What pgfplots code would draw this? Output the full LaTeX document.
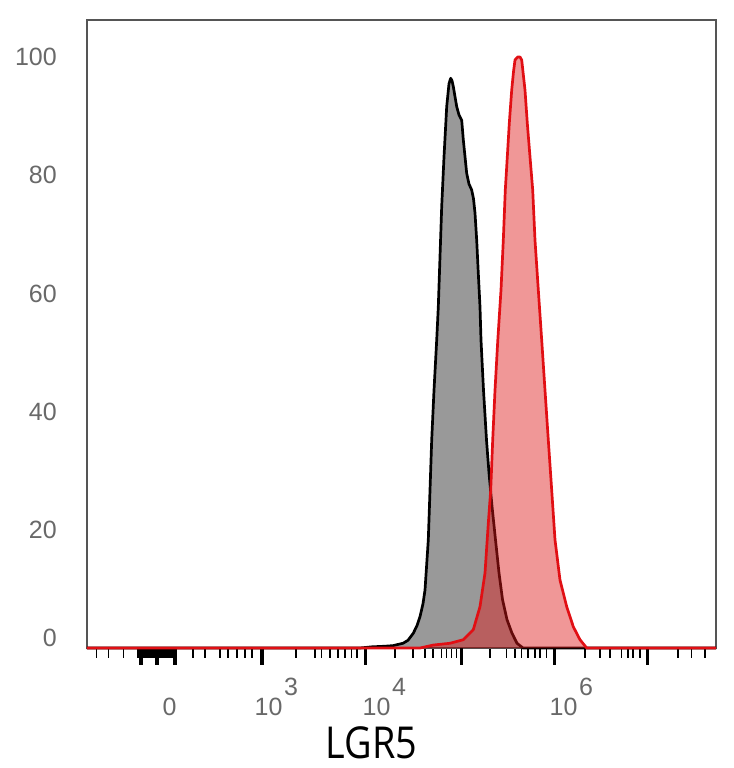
\documentclass[border=0pt]{standalone}
\usepackage{fontspec}
\setmainfont{Liberation Sans}
\newfontfamily\labelfont{Open Sans}
\usepackage{pgfplots}
\pgfplotsset{compat=1.18}
\definecolor{tickgray}{RGB}{105,105,105}
\definecolor{framegray}{RGB}{85,85,85}
\definecolor{fillred}{RGB}{222,24,24}
\definecolor{linered}{RGB}{225,15,20}
\newcommand{\ex}[1]{10\hspace{1.5bp}\raisebox{20bp}{#1}}
\begin{document}
\begin{tikzpicture}
\begin{axis}[
  scale only axis, width=629bp, height=628bp,
  xmin=87, xmax=716, ymin=0, ymax=106.26,
  clip=false,
  axis line style={draw=framegray, line width=1.3bp},
  tick pos=left, tick align=outside,
  xtick={162.5,254.5,362.5,549.5},
  xticklabels={0,\ex{3},\ex{4},\ex{6}},
  major tick length=0bp,
  xticklabel style={anchor=base west, inner sep=0pt, yshift=-67bp, text=tickgray, font=\fontsize{25bp}{28bp}\selectfont},
  minor xtick={96.7,108.3,123.3,138,139.2,...,177,193,205,220,228,237,245,252,296,315,321.7,330,338,345,351.7,357,395,413,425,433,441.7,446.7,451.7,456.7,490,506.7,515,521.7,528,535,540,546.7,585,600,610,621.7,628,633,640,678,691.7,705},
  minor tick length=10bp,
  minor tick style={line width=1.5bp, draw=black},
  extra x ticks={141,157,175,262,365.7,461.7,554.3,647.7},
  extra x tick labels={},
  extra x tick style={major tick length=17bp, tick style={line width=3.2bp, draw=black}},
  ytick={1.69,20,40,60,80,100},
  yticklabels={0,20,40,60,80,100},
  ytick style={draw=none},
  yticklabel style={anchor=east, inner sep=0pt, xshift=-30bp, text=tickgray, font=\fontsize{25bp}{28bp}\selectfont},
  xlabel={\scalebox{0.86}[1]{\labelfont\fontsize{44bp}{50bp}\selectfont LGR5}},
  x label style={at={(axis description cs:0.4526,-0.1760)}, anchor=base, inner sep=0pt},
]
\addplot[draw=black, line width=2.7bp, line join=round, fill=black, fill opacity=0.4] coordinates {
(87,0) (360,0) (372,0.2) (385,0.3) (393,0.4) (403,0.8) (408,1.3) (413.3,2.5) (417,3.8) (420,5.3) (423,7.5) (425,9.8)
(428.3,18.3) (430,26.7) (431.7,35.2) (434,43.6) (436.7,52.1) (438.3,57.7) (440,66.2) (441.7,74.7) (444,83.1)
(446.7,91.6) (449,95.5) (450.7,96.4) (452,96.0) (453.3,95) (456.7,91.6) (459,90.2) (461.7,89.3) (463.3,86)
(466.7,80.3) (469,78.5) (471.7,77.5) (473.5,76) (475,73.6) (476.7,69) (478.3,63.4) (480,57.7) (481,52.1)
(483.5,43.6) (486.5,35.2) (489,29.6) (492,24) (495.5,18.3) (499,12.7) (502.5,8.2) (507,4.8) (512,2.5)
(517,0.8) (523,0) (716,0)
};
\addplot[draw=linered, line width=2.7bp, line join=round, fill=fillred, fill opacity=0.45] coordinates {
(87,0) (420,0) (433.3,0.5) (450,0.8) (463.3,1.4) (473.3,3.1) (480,7) (485,12.7) (488.3,21.1) (490.7,26.7)
(492.7,35.2) (495,43.6) (497.8,52.1) (501,60.6) (503.3,69) (505.3,77.5) (507.3,83.1) (509.3,88.8) (511.7,94.4)
(513.5,97.5) (515,99.5) (517.7,100) (520,100) (521.7,99.5) (525,94.4) (527.3,88.8) (530,83.1) (532.7,77.5)
(535,69) (538.3,60.6) (541.7,52.1) (545,43.6) (548.3,35.2) (551.7,26.7) (555,18.3) (560,11.5) (566.7,7)
(573.3,3.6) (580,1.4) (586.7,0) (716,0)
};
\end{axis}
\pgfresetboundingbox
\useasboundingbox (-87bp,-120bp) rectangle (647bp,648bp);
\end{tikzpicture}
\end{document}
